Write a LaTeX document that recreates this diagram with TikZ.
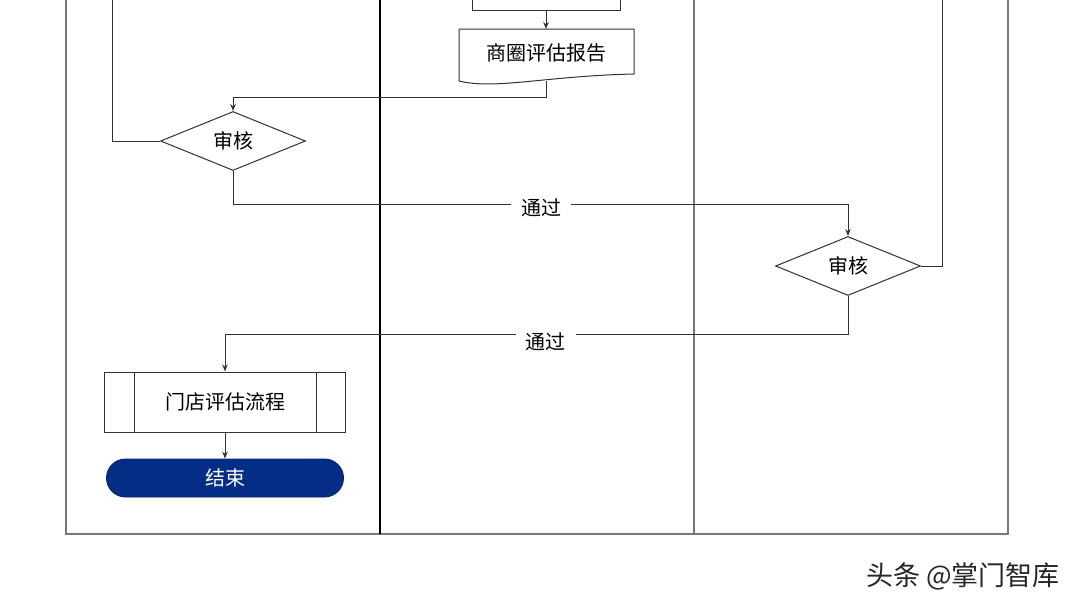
\documentclass[tikz,border=0pt]{standalone}
\usepackage{fontspec}
\newfontfamily\cjk{Noto Sans CJK SC}
\usetikzlibrary{shapes.geometric,arrows.meta,calc}
\definecolor{lanegray}{RGB}{120,120,120}
\definecolor{linegray}{RGB}{50,50,50}
\definecolor{endblue}{RGB}{4,46,134}
\begin{document}
\begin{tikzpicture}[x=1pt,y=-1pt,
  lbl/.style={font=\cjk\fontsize{20}{23}\selectfont},
  conn/.style={draw=linegray,line width=1pt},
  arr/.style={conn,-{Stealth[length=7pt,width=5.5pt]}},
  boxst/.style={draw=linegray,line width=1pt,fill=white,rectangle,inner sep=0pt},
  decst/.style={draw=linegray,line width=1pt,fill=white,diamond,aspect=2.4,minimum width=145pt,minimum height=59pt,inner sep=0pt,lbl},
  endst/.style={draw=endblue!80!black,line width=0.9pt,fill=endblue,rounded corners=19pt,minimum width=237pt,minimum height=38pt,inner sep=0pt,text=white,lbl},
  passlbl/.style={fill=white,inner xsep=10pt,inner ysep=2pt,lbl}]
\useasboundingbox (0,0) rectangle (1080,608);
\clip (0,0) rectangle (1080,608);
\fill[white] (0,0) rectangle (1080,608);
% swimlanes
\draw[lanegray,line width=1.2pt] (66,-10) -- (66,534) -- (1008,534) -- (1008,-10);
\draw[black,line width=1.4pt] (380,-10) -- (380,534);
\draw[lanegray,line width=1.2pt] (694,-10) -- (694,534);
% middle lane
\node[boxst,minimum width=148pt,minimum height=50pt] (top) at (546,-15) {};
\draw[draw=linegray,line width=1pt,fill=white] (459,29) -- (634,29) -- (634,74) .. controls (545,76) and (495,90) .. (459,81) -- cycle;
\node[lbl] (rep) at (546,53) {商圈评估报告};
\coordinate (docbot) at (546,81);
\coordinate (j1) at (546,97);
% decisions
\node[decst] (d1) at (233,141) {审核};
\node[decst] (d2) at (848,266) {审核};
% subprocess and end
\node[boxst,minimum width=241pt,minimum height=60pt,lbl] (sub) at (225,402) {门店评估流程};
\draw[conn] ($(sub.north west)+(30,0)$) -- ($(sub.south west)+(30,0)$);
\draw[conn] ($(sub.north east)+(-30,0)$) -- ($(sub.south east)+(-30,0)$);
\node[endst] (end) at (225,478) {结束};
% off-page ends
\coordinate (lt) at (112,-10);
\coordinate (rt) at (942,-10);
% connectors
\draw[arr] (top.south) -- (rep.center |- 0,29);
\draw[arr] (docbot) -- (j1) -| (d1.north);
\draw[conn] (lt) |- (d1.west);
\draw[arr] (d1.south) -- ++(0,33) -| (d2.north);
\draw[conn] (d2.east) -| (rt);
\draw[arr] (d2.south) -- ++(0,38) -| (sub.north);
\draw[arr] (sub.south) -- (end.north);
% labels
\node[passlbl] (p1) at (541,208) {通过};
\node[passlbl] (p2) at (545.5,342) {通过};
% watermark
\node[font=\cjk\fontsize{27}{30}\selectfont,text=black!85] (wm) at (963,576) {头条 @掌门智库};
\end{tikzpicture}
\end{document}
